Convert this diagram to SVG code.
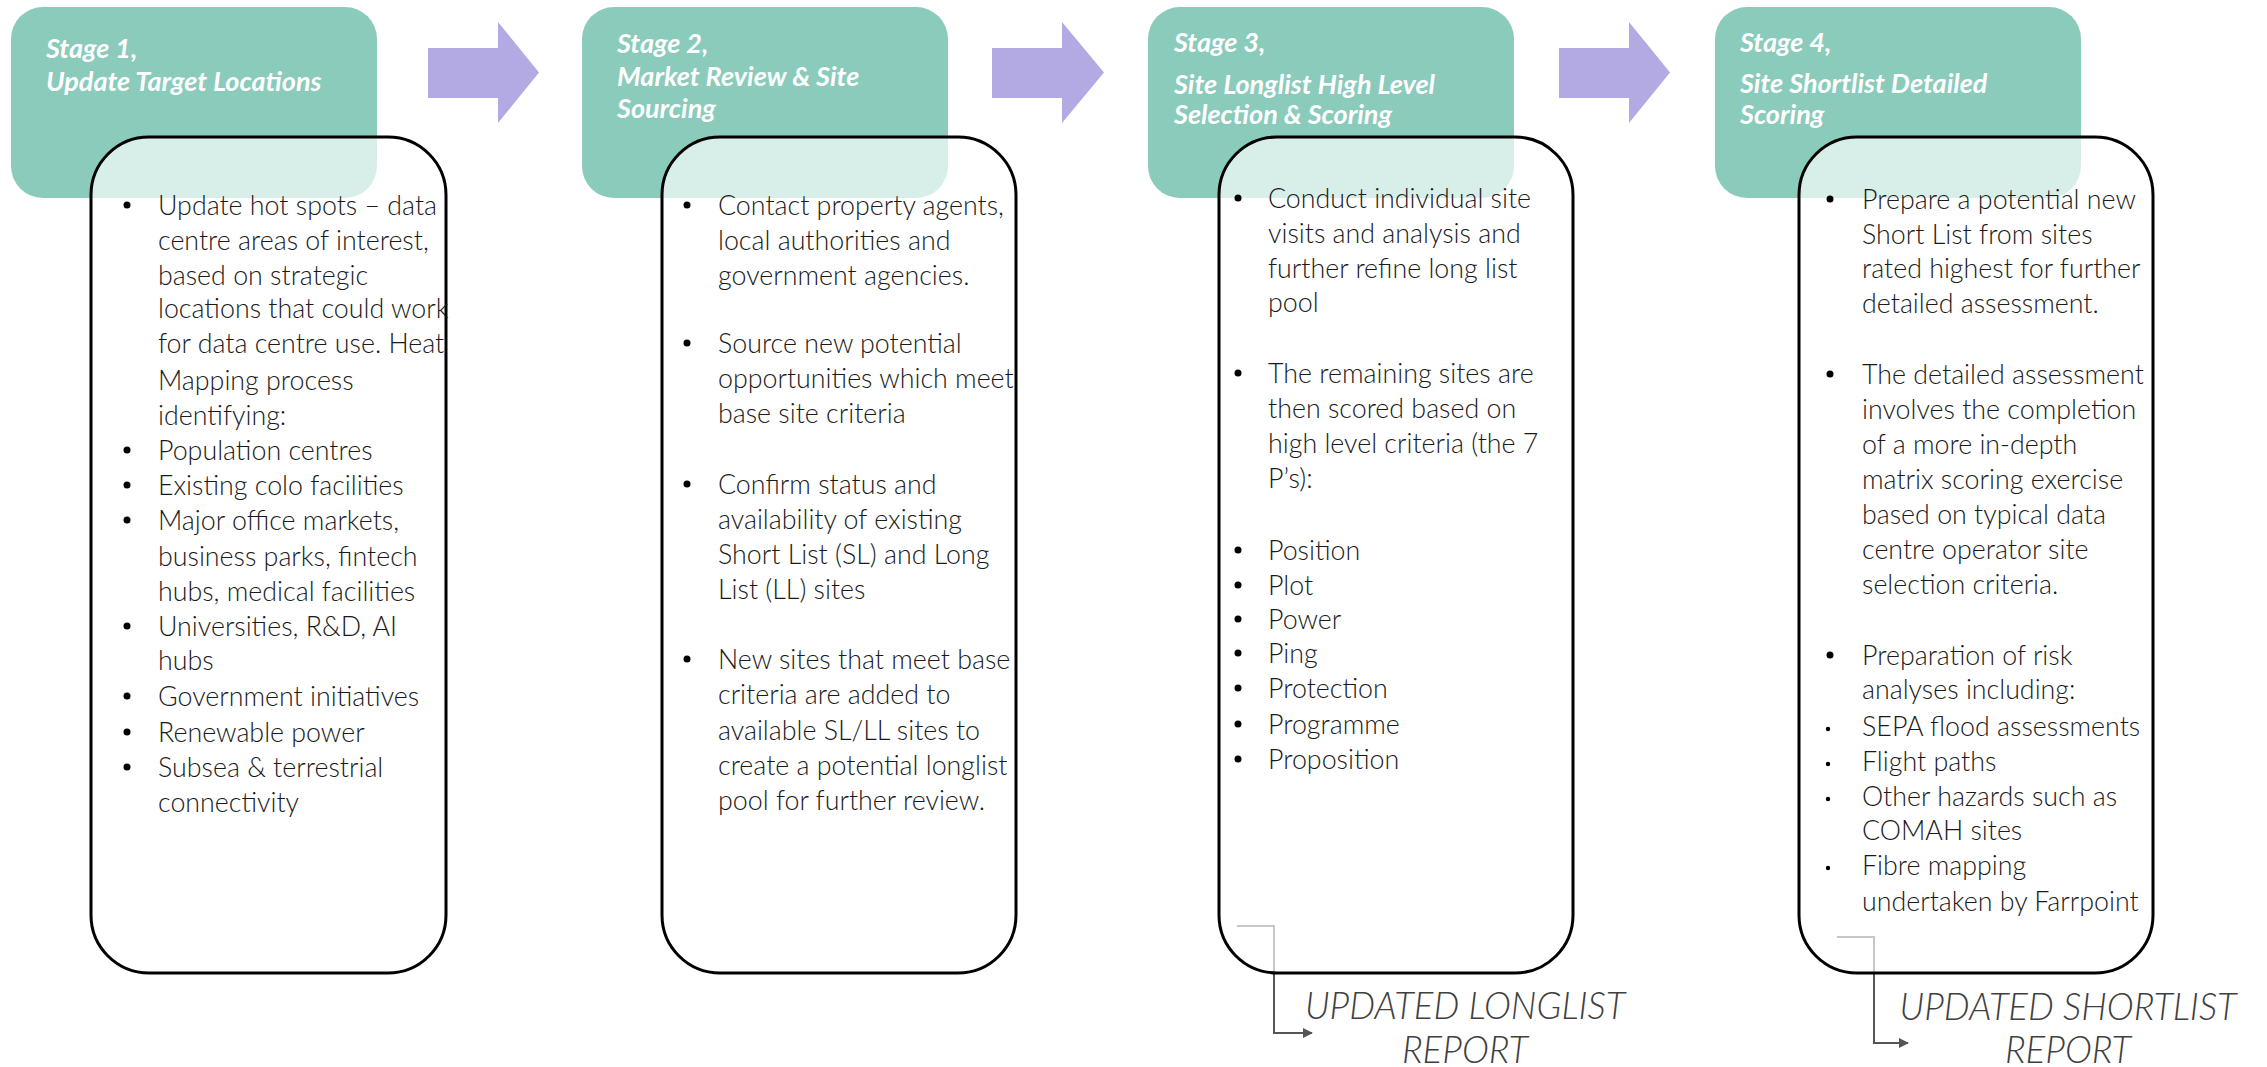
<svg xmlns="http://www.w3.org/2000/svg" width="2267" height="1067" viewBox="0 0 2267 1067">
<style>
.hdr{fill:#8ACBBB}
.ttl{font-family:Lato,"Liberation Sans",sans-serif;font-style:italic;font-weight:700;font-size:27px;fill:#ffffff}
.body{fill:#ffffff;fill-opacity:0.67;stroke:#000;stroke-width:3}
.tx{font-family:Lato,"Liberation Sans",sans-serif;font-weight:300;font-size:26.8px;fill:#1a1a1a}
.blt{fill:#000}
.barrow{fill:#B3AAE4}
.conn{fill:none;stroke:#555;stroke-width:2}
.rep{font-family:Lato,"Liberation Sans",sans-serif;font-style:italic;font-weight:300;font-size:36.5px;fill:#404040;text-anchor:middle}
</style>
<defs>
<marker id="ah" markerWidth="10" markerHeight="10" refX="9" refY="5" orient="auto" markerUnits="userSpaceOnUse">
<path d="M0,0 L10,5 L0,10 Z" fill="#555"/>
</marker>
</defs>
<rect width="2267" height="1067" fill="#fff"/>

<g id="stage1-header"><rect class="hdr" x="11" y="7" width="366" height="191" rx="32"/>
<text class="ttl" x="46" y="58">Stage 1,</text><text class="ttl" x="46" y="91">Update Target Locations</text></g>
<g id="stage2-header"><rect class="hdr" x="582" y="7" width="366" height="191" rx="32"/>
<text class="ttl" x="617" y="53">Stage 2,</text><text class="ttl" x="617" y="86">Market Review &amp; Site</text><text class="ttl" x="617" y="118">Sourcing</text></g>
<g id="stage3-header"><rect class="hdr" x="1148" y="7" width="366" height="191" rx="32"/>
<text class="ttl" x="1174" y="52">Stage 3,</text><text class="ttl" x="1174" y="94">Site Longlist High Level</text><text class="ttl" x="1174" y="124">Selection &amp; Scoring</text></g>
<g id="stage4-header"><rect class="hdr" x="1715" y="7" width="366" height="191" rx="32"/>
<text class="ttl" x="1740" y="52">Stage 4,</text><text class="ttl" x="1740" y="93">Site Shortlist Detailed</text><text class="ttl" x="1740" y="124">Scoring</text></g>

<g id="connectors">
<path class="barrow" d="M428,48 H498 V22 L539,72.5 L498,123 V98 H428 Z"/>
<path class="barrow" d="M992,48 H1062 V22 L1104,72.5 L1062,123 V98 H992 Z"/>
<path class="barrow" d="M1559,48 H1629 V22 L1670,72.5 L1629,123 V98 H1559 Z"/>
<path class="conn" d="M1237,926 H1274 V1033 H1312" marker-end="url(#ah)"/>
<path class="conn" d="M1837,937 H1874 V1043 H1908" marker-end="url(#ah)"/>
</g>

<g id="stage1-body"><rect class="body" x="91" y="137" width="355" height="836" rx="58"/>
<circle class="blt" cx="127" cy="205" r="3.5"/><circle class="blt" cx="127" cy="450" r="3.5"/><circle class="blt" cx="127" cy="485" r="3.5"/><circle class="blt" cx="127" cy="520" r="3.5"/><circle class="blt" cx="127" cy="626" r="3.5"/><circle class="blt" cx="127" cy="696" r="3.5"/><circle class="blt" cx="127" cy="732" r="3.5"/><circle class="blt" cx="127" cy="767" r="3.5"/>
<text class="tx" x="158" y="215">Update hot spots – data</text>
<text class="tx" x="158" y="250">centre areas of interest,</text>
<text class="tx" x="158" y="285">based on strategic</text>
<text class="tx" x="158" y="318">locations that could work</text>
<text class="tx" x="158" y="353">for data centre use. Heat</text>
<text class="tx" x="158" y="390">Mapping process</text>
<text class="tx" x="158" y="425">identifying:</text>
<text class="tx" x="158" y="460">Population centres</text>
<text class="tx" x="158" y="495">Existing colo facilities</text>
<text class="tx" x="158" y="530">Major office markets,</text>
<text class="tx" x="158" y="566">business parks, fintech</text>
<text class="tx" x="158" y="601">hubs, medical facilities</text>
<text class="tx" x="158" y="636">Universities, R&amp;D, AI</text>
<text class="tx" x="158" y="670">hubs</text>
<text class="tx" x="158" y="706">Government initiatives</text>
<text class="tx" x="158" y="742">Renewable power</text>
<text class="tx" x="158" y="777">Subsea &amp; terrestrial</text>
<text class="tx" x="158" y="812">connectivity</text>
</g>

<g id="stage2-body"><rect class="body" x="662" y="137" width="354" height="836" rx="58"/>
<circle class="blt" cx="687" cy="205" r="3.5"/><circle class="blt" cx="687" cy="343" r="3.5"/><circle class="blt" cx="687" cy="484" r="3.5"/><circle class="blt" cx="687" cy="659" r="3.5"/>
<text class="tx" x="718" y="215">Contact property agents,</text>
<text class="tx" x="718" y="250">local authorities and</text>
<text class="tx" x="718" y="285">government agencies.</text>
<text class="tx" x="718" y="353">Source new potential</text>
<text class="tx" x="718" y="388">opportunities which meet</text>
<text class="tx" x="718" y="423">base site criteria</text>
<text class="tx" x="718" y="494">Confirm status and</text>
<text class="tx" x="718" y="529">availability of existing</text>
<text class="tx" x="718" y="564">Short List (SL) and Long</text>
<text class="tx" x="718" y="599">List (LL) sites</text>
<text class="tx" x="718" y="669">New sites that meet base</text>
<text class="tx" x="718" y="704">criteria are added to</text>
<text class="tx" x="718" y="740">available SL/LL sites to</text>
<text class="tx" x="718" y="775">create a potential longlist</text>
<text class="tx" x="718" y="810">pool for further review.</text>
</g>

<g id="stage3-body"><rect class="body" x="1219" y="137" width="354" height="836" rx="58"/>
<circle class="blt" cx="1238" cy="198" r="3.5"/><circle class="blt" cx="1238" cy="373" r="3.5"/><circle class="blt" cx="1238" cy="550" r="3.5"/><circle class="blt" cx="1238" cy="585" r="3.5"/><circle class="blt" cx="1238" cy="619" r="3.5"/><circle class="blt" cx="1238" cy="653" r="3.5"/><circle class="blt" cx="1238" cy="688" r="3.5"/><circle class="blt" cx="1238" cy="724" r="3.5"/><circle class="blt" cx="1238" cy="759" r="3.5"/>
<text class="tx" x="1268" y="208">Conduct individual site</text>
<text class="tx" x="1268" y="243">visits and analysis and</text>
<text class="tx" x="1268" y="278">further refine long list</text>
<text class="tx" x="1268" y="312">pool</text>
<text class="tx" x="1268" y="383">The remaining sites are</text>
<text class="tx" x="1268" y="418">then scored based on</text>
<text class="tx" x="1268" y="453">high level criteria (the 7</text>
<text class="tx" x="1268" y="488">P’s):</text>
<text class="tx" x="1268" y="560">Position</text>
<text class="tx" x="1268" y="595">Plot</text>
<text class="tx" x="1268" y="629">Power</text>
<text class="tx" x="1268" y="663">Ping</text>
<text class="tx" x="1268" y="698">Protection</text>
<text class="tx" x="1268" y="734">Programme</text>
<text class="tx" x="1268" y="769">Proposition</text>
</g>

<g id="stage4-body"><rect class="body" x="1799" y="137" width="354" height="836" rx="58"/>
<circle class="blt" cx="1830" cy="199" r="3.5"/><circle class="blt" cx="1830" cy="374" r="3.5"/><circle class="blt" cx="1830" cy="655" r="3.5"/>
<circle class="blt" cx="1828" cy="729" r="2.2"/><circle class="blt" cx="1828" cy="764" r="2.2"/><circle class="blt" cx="1828" cy="799" r="2.2"/><circle class="blt" cx="1828" cy="868" r="2.2"/>
<text class="tx" x="1862" y="209">Prepare a potential new</text>
<text class="tx" x="1862" y="244">Short List from sites</text>
<text class="tx" x="1862" y="278">rated highest for further</text>
<text class="tx" x="1862" y="313">detailed assessment.</text>
<text class="tx" x="1862" y="384">The detailed assessment</text>
<text class="tx" x="1862" y="419">involves the completion</text>
<text class="tx" x="1862" y="454">of a more in-depth</text>
<text class="tx" x="1862" y="489">matrix scoring exercise</text>
<text class="tx" x="1862" y="524">based on typical data</text>
<text class="tx" x="1862" y="559">centre operator site</text>
<text class="tx" x="1862" y="594">selection criteria.</text>
<text class="tx" x="1862" y="665">Preparation of risk</text>
<text class="tx" x="1862" y="699">analyses including:</text>
<text class="tx" x="1862" y="736">SEPA flood assessments</text>
<text class="tx" x="1862" y="771">Flight paths</text>
<text class="tx" x="1862" y="806">Other hazards such as</text>
<text class="tx" x="1862" y="840">COMAH sites</text>
<text class="tx" x="1862" y="875">Fibre mapping</text>
<text class="tx" x="1862" y="911">undertaken by Farrpoint</text>
</g>

<g id="report-longlist"><text class="rep" x="1465" y="1019">UPDATED LONGLIST</text><text class="rep" x="1465" y="1063">REPORT</text></g>
<g id="report-shortlist"><text class="rep" x="2068" y="1020">UPDATED SHORTLIST</text><text class="rep" x="2068" y="1063">REPORT</text></g>
</svg>
